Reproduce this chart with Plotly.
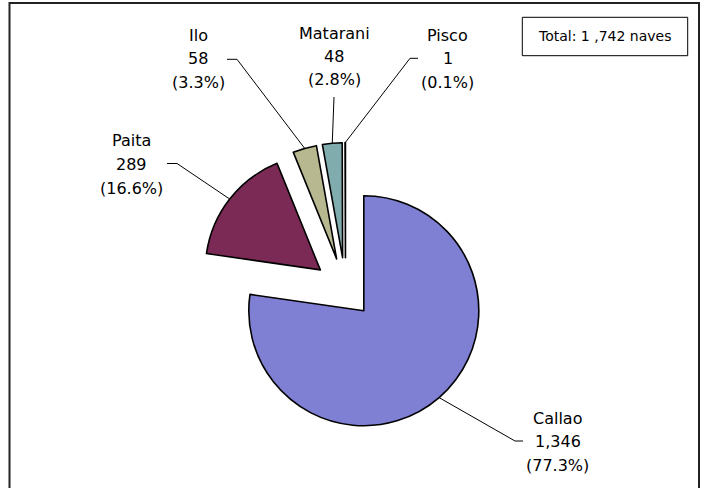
import math
import plotly.graph_objects as go

# data
ports = ["Callao", "Paita", "Ilo", "Matarani", "Pisco"]
ships = [1346, 289, 58, 48, 1]
colors = ["#7f7fd4", "#7a2a55", "#b8b890", "#80acae", "#5f8f90"]
pulls = [0.243, 0.278, 0.278, 0.278, 0.278]
total_label = "Total: 1 ,742 naves"

W, H = 706, 488

# pie placement in pixels
cx, cy, r = 345.5, 289.6, 115
half = r * (1 + max(pulls))


def px(x):
    return x / W


def py(y):
    return 1 - y / H


fig = go.Figure(go.Pie(
    labels=ports,
    values=ships,
    sort=False,
    direction="clockwise",
    rotation=0,
    pull=pulls,
    textinfo="none",
    hoverinfo="label+value+percent",
    marker=dict(colors=colors, line=dict(color="black", width=1.6)),
    domain=dict(x=[px(cx - half), px(cx + half)], y=[py(cy + half), py(cy - half)]),
    showlegend=False,
))

# label blocks: centre x, first line y, and leader stub (label side points)
label_pos = {
    "Callao": (557.7, 418, [(523, 441), (515, 441)]),
    "Paita": (131.7, 141, [(167, 163.5), (177, 163.5)]),
    "Ilo": (198, 35, [(227, 59.3), (237, 59.3)]),
    "Matarani": (334.3, 33, [(334, 97)]),
    "Pisco": (447.7, 35, [(418, 58.3), (410, 58.3)]),
}
line_gap = 23.5

total = sum(ships)
annotations = []
shapes = []
start = 0.0
for name, v, pull in zip(ports, ships, pulls):
    ang = 360 * v / total
    mid = math.radians(start + ang / 2)
    start += ang
    ex = cx + r * (1 + pull) * math.sin(mid)
    ey = cy - r * (1 + pull) * math.cos(mid)

    lx, ly, stub = label_pos[name]
    lines = [name, f"{v:,}", f"({v / total * 100:.1f}%)"]
    for k, t in enumerate(lines):
        annotations.append(dict(
            x=px(lx), y=py(ly + k * line_gap), xref="paper", yref="paper",
            text=t, showarrow=False, xanchor="center", yanchor="middle",
            font=dict(family="DejaVu Sans", size=16, color="black"),
        ))
    pts = stub + [(ex, ey)]
    path = "M " + " L ".join(f"{px(x):.5f},{py(y):.5f}" for x, y in pts)
    shapes.append(dict(type="path", xref="paper", yref="paper", path=path,
                       line=dict(color="black", width=1)))

# total box
shapes.append(dict(type="rect", xref="paper", yref="paper",
                   x0=px(522.3), x1=px(687.7), y0=py(55.7), y1=py(17.3),
                   line=dict(color="black", width=1)))
annotations.append(dict(x=px(605), y=py(36.5), xref="paper", yref="paper",
                        text=total_label, showarrow=False,
                        xanchor="center", yanchor="middle",
                        font=dict(family="DejaVu Sans", size=14, color="black")))

# outer chart border (left/top/right lines)
border = "M {:.5f},-0.02 L {:.5f},{:.5f} L {:.5f},{:.5f} L {:.5f},-0.02".format(
    px(9.5), px(9.5), py(3), px(699), py(3), px(699))
shapes.append(dict(type="path", xref="paper", yref="paper", path=border,
                   line=dict(color="#222222", width=2)))

fig.update_layout(
    width=W, height=H,
    margin=dict(l=0, r=0, t=0, b=0),
    paper_bgcolor="white",
    plot_bgcolor="white",
    shapes=shapes,
    annotations=annotations,
)

fig.write_html("out.html", config={"displayModeBar": False},
               post_script="document.body.style.margin='0';"
                           "document.body.style.overflow='hidden';")
